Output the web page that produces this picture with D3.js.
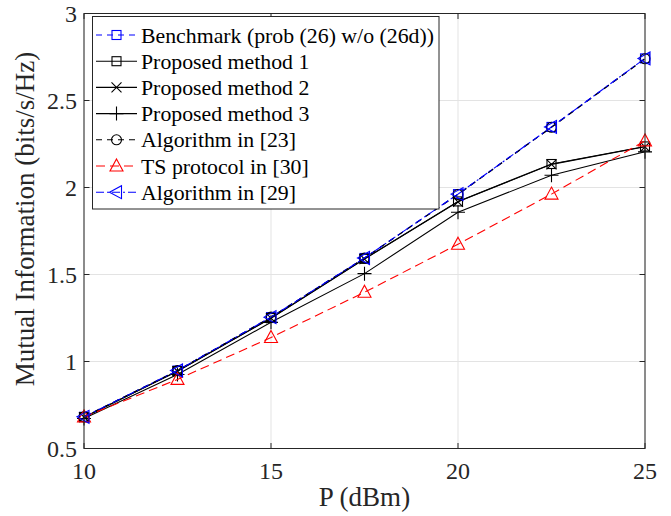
<!DOCTYPE html>
<html><head><meta charset="utf-8">
<script src="https://cdn.jsdelivr.net/npm/d3@7/dist/d3.min.js"></script>
<style>body{margin:0;background:#fff}svg{display:block}text{font-family:"Liberation Serif","Times New Roman",serif}</style>
</head><body>
<script>
const P = [10, 12.5, 15, 17.5, 20, 22.5, 25];
const benchmark = [0.682, 0.948, 1.255, 1.595, 1.962, 2.348, 2.742];
const method1 = [0.680, 0.945, 1.250, 1.590, 1.920, 2.135, 2.236];
const method2 = [0.680, 0.944, 1.249, 1.589, 1.918, 2.133, 2.234];
const method3 = [0.672, 0.925, 1.225, 1.505, 1.858, 2.070, 2.205];
const alg23 = [0.682, 0.948, 1.255, 1.594, 1.960, 2.346, 2.740];
const ts30 = [0.682, 0.897, 1.138, 1.398, 1.674, 1.962, 2.268];
const alg29 = [0.682, 0.948, 1.255, 1.595, 1.962, 2.348, 2.742];
const xTicks = [10, 15, 20, 25];
const yTicks = [0.5, 1, 1.5, 2, 2.5, 3];
const seriesNames = ["Benchmark (prob (26) w/o (26d))", "Proposed method 1", "Proposed method 2", "Proposed method 3", "Algorithm in [23]", "TS protocol in [30]", "Algorithm in [29]"];

const W = 671, H = 516;
const m = {l: 84, r: 645, t: 13.5, b: 448.5};
const svg = d3.select("body").append("svg").attr("width", W).attr("height", H);
const x = d3.scaleLinear().domain([10, 25]).range([m.l, m.r]);
const y = d3.scaleLinear().domain([0.5, 3]).range([m.b, m.t]);

// grid
const g = svg.append("g");
g.selectAll(".gx").data(xTicks).join("line").attr("x1", d => x(d)).attr("x2", d => x(d))
  .attr("y1", m.t).attr("y2", m.b).attr("stroke", "#e3e3e3").attr("stroke-width", 1);
g.selectAll(".gy").data(yTicks).join("line").attr("y1", d => y(d)).attr("y2", d => y(d))
  .attr("x1", m.l).attr("x2", m.r).attr("stroke", "#e3e3e3").attr("stroke-width", 1);

const series = [
  {name: seriesNames[0], v: benchmark, color: "#0000ff", dash: "6,5", marker: "square"},
  {name: seriesNames[1], v: method1, color: "#000000", dash: null, marker: "square"},
  {name: seriesNames[2], v: method2, color: "#000000", dash: null, marker: "x"},
  {name: seriesNames[3], v: method3, color: "#000000", dash: null, marker: "plus"},
  {name: seriesNames[4], v: alg23, color: "#000000", dash: "6,5", marker: "circle"},
  {name: seriesNames[5], v: ts30, color: "#ff0000", dash: "9,5", marker: "triangle"},
  {name: seriesNames[6], v: alg29, color: "#0000ff", dash: "8,3,2,3", marker: "tleft"}
];

function drawMarker(sel, type, cx, cy, color) {
  const s = sel.append("g").attr("transform", `translate(${cx},${cy})`)
    .attr("fill", "none").attr("stroke", color).attr("stroke-width", 1.1);
  if (type === "square") s.append("rect").attr("x", -4.5).attr("y", -4.5).attr("width", 9).attr("height", 9);
  if (type === "x") s.append("path").attr("d", "M-5,-5L5,5M-5,5L5,-5");
  if (type === "plus") s.append("path").attr("d", "M-7,0L7,0M0,-7L0,7");
  if (type === "circle") s.append("circle").attr("r", 5);
  if (type === "triangle") s.append("path").attr("d", "M0,-7L6.5,5L-6.5,5Z");
  if (type === "tleft") s.append("path").attr("d", "M-7,0L5,-6.5L5,6.5Z");
}

const line = d3.line().x((d, i) => x(P[i])).y(d => y(d));
const plot = svg.append("g");
series.forEach(s => {
  plot.append("path").datum(s.v).attr("d", line).attr("fill", "none")
    .attr("stroke", s.color).attr("stroke-width", 1.1)
    .attr("stroke-dasharray", s.dash);
  s.v.forEach((v, i) => drawMarker(plot, s.marker, x(P[i]), y(v), s.color));
});

// axes box
const ax = svg.append("g");
ax.append("rect").attr("x", m.l).attr("y", m.t).attr("width", m.r - m.l).attr("height", m.b - m.t)
  .attr("fill", "none").attr("stroke", "#262626").attr("stroke-width", 1);
xTicks.forEach(t => {
  ax.append("line").attr("x1", x(t)).attr("x2", x(t)).attr("y1", m.b).attr("y2", m.b - 5.5).attr("stroke", "#262626");
  ax.append("line").attr("x1", x(t)).attr("x2", x(t)).attr("y1", m.t).attr("y2", m.t + 5.5).attr("stroke", "#262626");
  ax.append("text").attr("x", x(t)).attr("y", 479).attr("text-anchor", "middle").attr("font-size", 24).attr("fill", "#262626").text(t);
});
yTicks.forEach(t => {
  ax.append("line").attr("y1", y(t)).attr("y2", y(t)).attr("x1", m.l).attr("x2", m.l + 5.5).attr("stroke", "#262626");
  ax.append("line").attr("y1", y(t)).attr("y2", y(t)).attr("x1", m.r).attr("x2", m.r - 5.5).attr("stroke", "#262626");
  ax.append("text").attr("x", 77).attr("y", y(t) + 8).attr("text-anchor", "end").attr("font-size", 24).attr("fill", "#262626").text(t);
});
svg.append("text").attr("x", (m.l + m.r) / 2).attr("y", 506).attr("text-anchor", "middle")
  .attr("font-size", 27).attr("fill", "#262626").text("P (dBm)");
svg.append("text").attr("transform", `translate(34,${(m.t + m.b) / 2 - 12}) rotate(-90)`)
  .attr("text-anchor", "middle").attr("font-size", 27).attr("fill", "#262626").text("Mutual Information (bits/s/Hz)");

// legend
const lg = svg.append("g");
lg.append("rect").attr("x", 92.5).attr("y", 16.5).attr("width", 346.5).attr("height", 192.5)
  .attr("fill", "#fff").attr("stroke", "#262626").attr("stroke-width", 1);
series.forEach((s, i) => {
  const cy = 35 + i * 26.2;
  lg.append("line").attr("x1", 96).attr("x2", 137).attr("y1", cy).attr("y2", cy)
    .attr("stroke", s.color).attr("stroke-width", 1.1).attr("stroke-dasharray", s.dash);
  drawMarker(lg, s.marker, 116.5, cy, s.color);
  lg.append("text").attr("x", 141).attr("y", cy + 7.5).attr("font-size", 21.8).attr("fill", "#000").text(s.name);
});
</script>
</body></html>
